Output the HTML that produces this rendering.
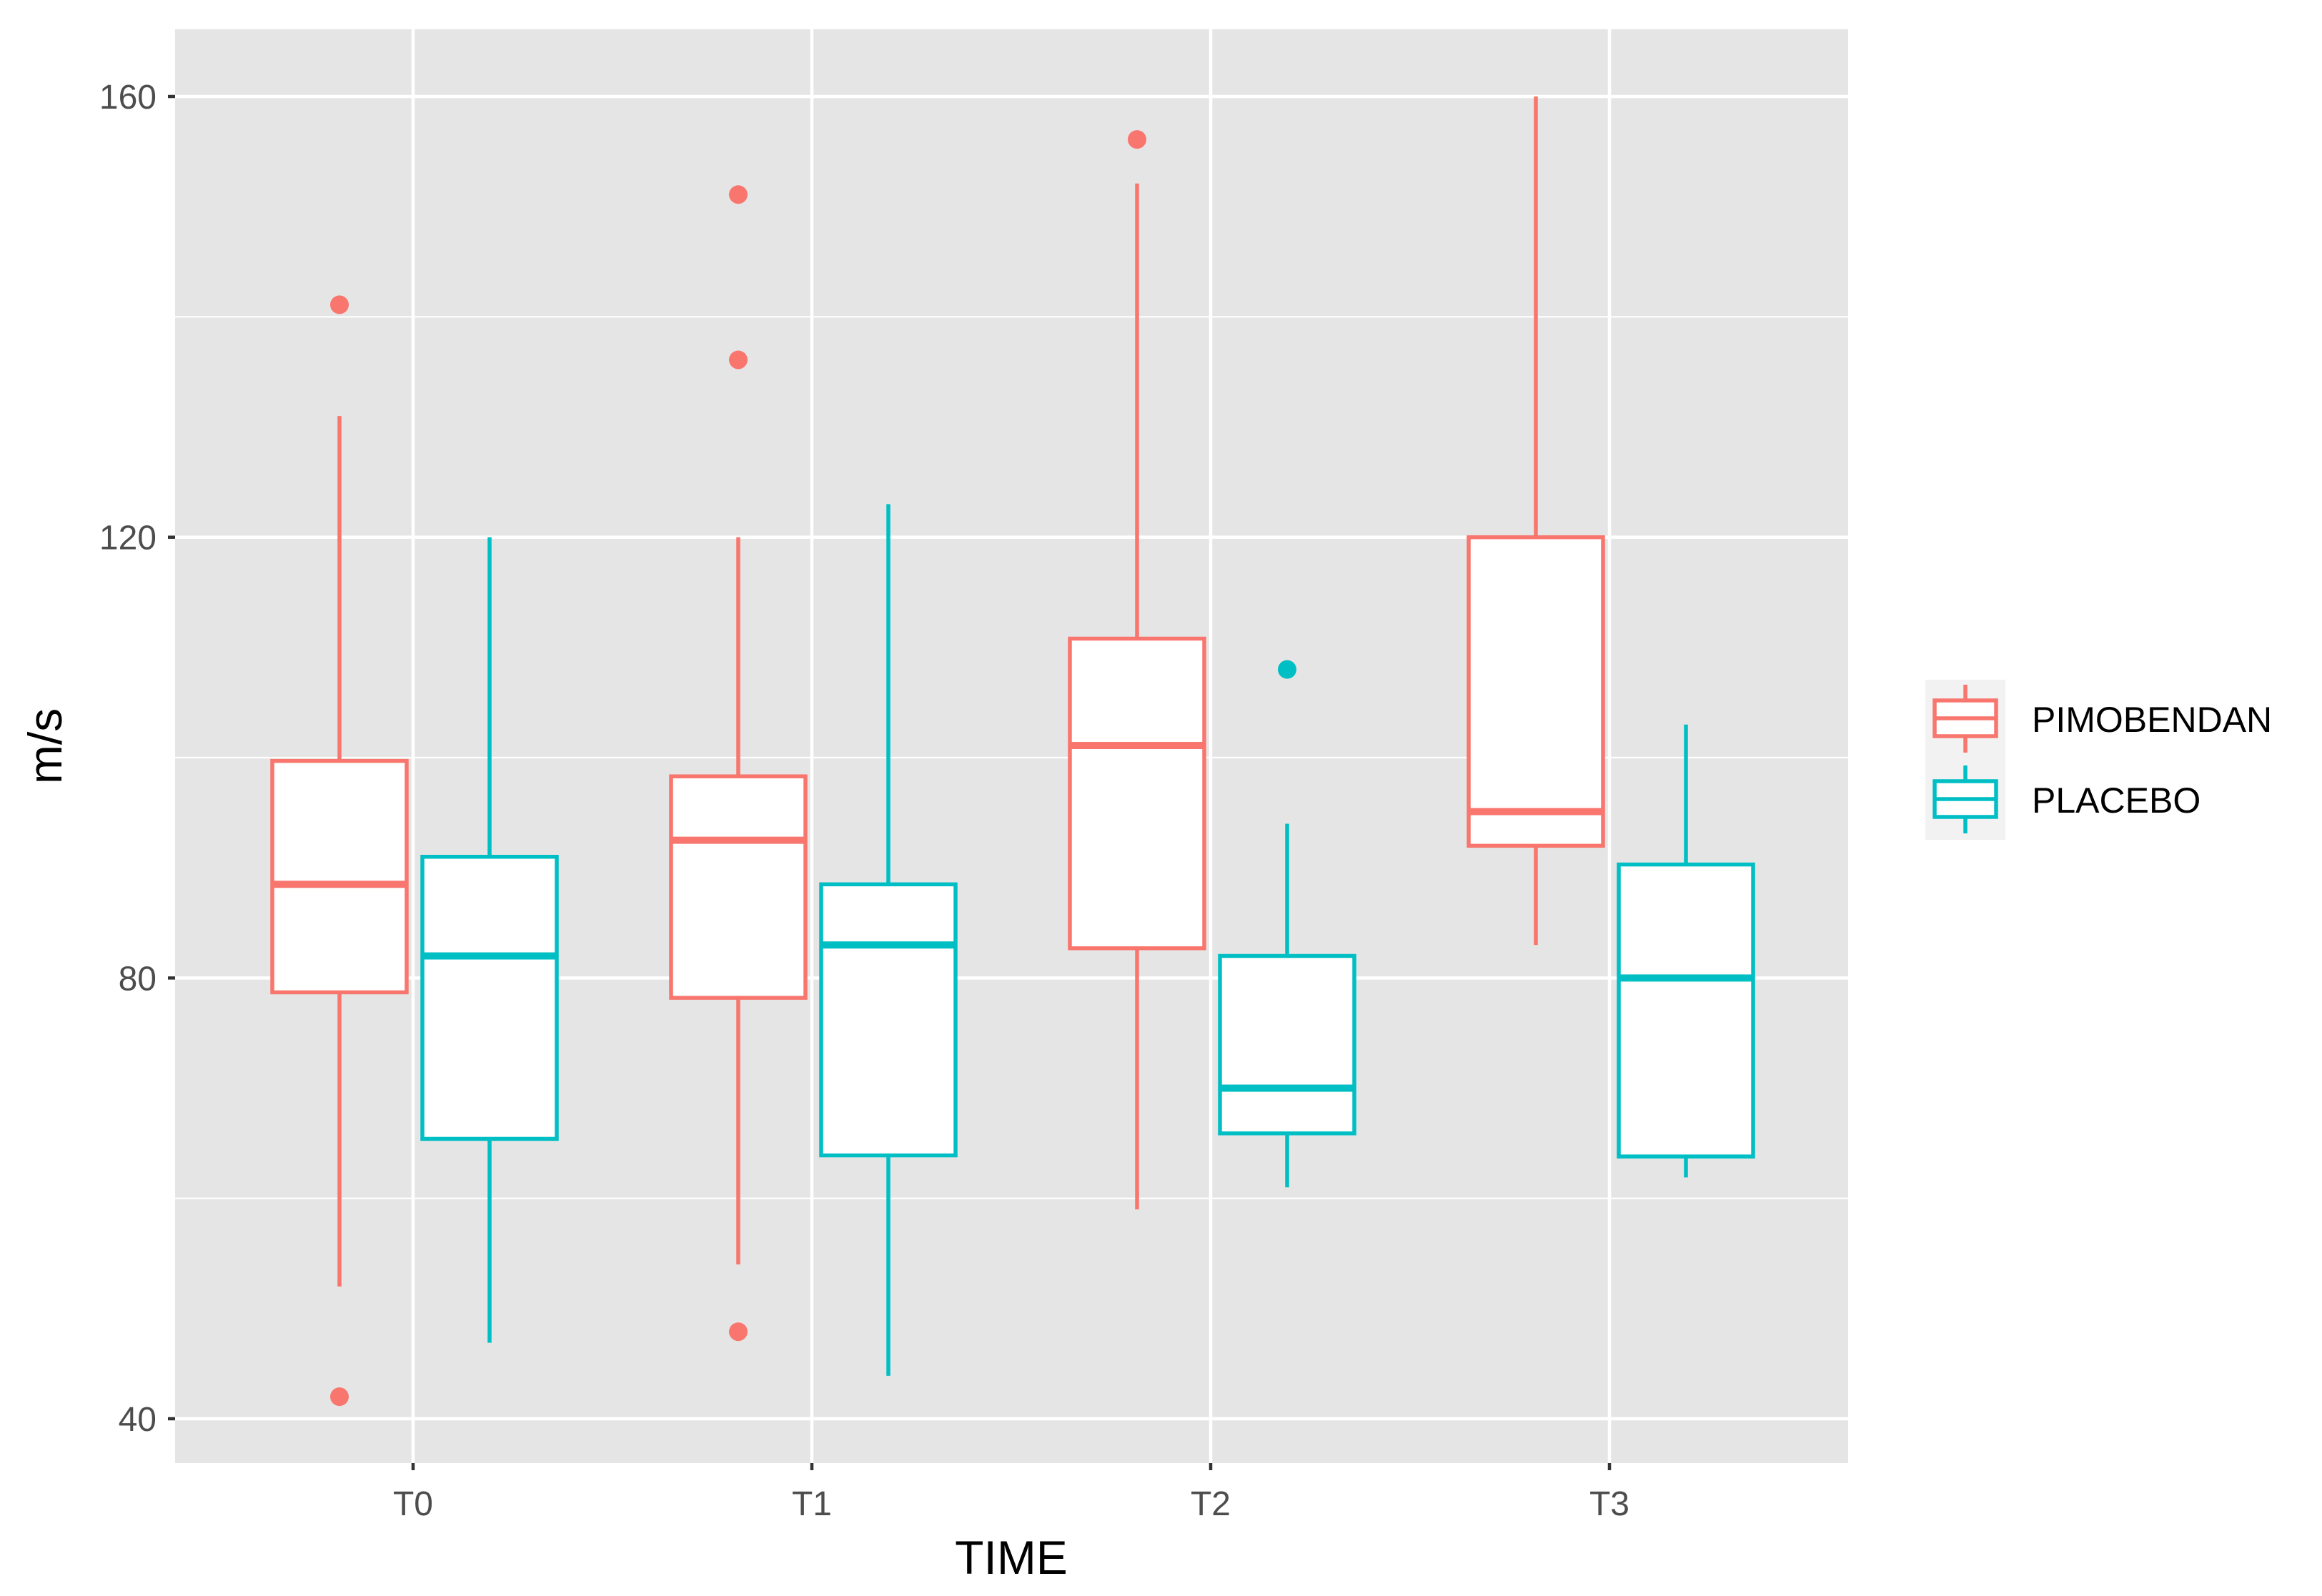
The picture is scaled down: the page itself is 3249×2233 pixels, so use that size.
<!DOCTYPE html>
<html><head><meta charset="utf-8"><style>
html,body{margin:0;padding:0;background:#fff;}
svg{display:block;font-family:"Liberation Sans",sans-serif;}
</style></head><body>
<svg id="chart" width="3249" height="2233" viewBox="0 0 3249 2233" xmlns="http://www.w3.org/2000/svg">
<rect x="245" y="41" width="2341" height="2006" fill="#e5e5e5"/>
<g id="grid"></g>
<g id="axes"></g>
<g id="marks"></g>
<text x="1415" y="2202" font-size="66" text-anchor="middle" fill="#000">TIME</text>
<text transform="translate(86,1044) rotate(-90)" font-size="66" text-anchor="middle" fill="#000">m/s</text>
<g>
<rect x="2694" y="951" width="112" height="224" fill="#f2f2f2"/>
<g>
<line x1="2750" y1="958" x2="2750" y2="1053" stroke="#F8766D" stroke-width="5.5"/>
<rect x="2707" y="980" width="86" height="50" fill="#fff" stroke="#F8766D" stroke-width="5.5"/>
<line x1="2707" y1="1005" x2="2793" y2="1005" stroke="#F8766D" stroke-width="5.5"/>
<text x="2843" y="1024" font-size="50" fill="#000">PIMOBENDAN</text>
</g>
<g>
<line x1="2750" y1="1071" x2="2750" y2="1166" stroke="#00BFC4" stroke-width="5.5"/>
<rect x="2707" y="1093" width="86" height="50" fill="#fff" stroke="#00BFC4" stroke-width="5.5"/>
<line x1="2707" y1="1118" x2="2793" y2="1118" stroke="#00BFC4" stroke-width="5.5"/>
<text x="2843" y="1137" font-size="50" fill="#000">PLACEBO</text>
</g>
</g>
</svg>
<script>
const categories = ["T0","T1","T2","T3"];
const yTicks = [40,80,120,160];
const yMinor = [60,100,140];
const pimLow = [52,54,59,83];
const pimQ1 = [78.7,78.2,82.7,92];
const pimMed = [88.5,92.5,101.1,95.1];
const pimQ3 = [99.7,98.3,110.8,120];
const pimHigh = [131,120,152.1,160];
const pimOutliers = [[141.1,42],[151.1,136.1,47.9],[156.1],[]];
const plaLow = [46.9,43.9,61,61.9];
const plaQ1 = [65.4,63.9,65.9,63.8];
const plaMed = [82,83,70,80];
const plaQ3 = [91,88.5,82,90.3];
const plaHigh = [120,123,94,103];
const plaOutliers = [[],[],[108],[]];

const NS = "http://www.w3.org/2000/svg";
const yScale = v => 135 + (160 - v) * (1985 - 135) / 120;
const xScale = i => 578 + i * 558;
function mk(tag, attrs, parent){const e=document.createElementNS(NS,tag);for(const k in attrs)e.setAttribute(k,attrs[k]);parent.appendChild(e);return e;}
const grid=document.getElementById('grid'), axes=document.getElementById('axes'), marks=document.getElementById('marks');
yMinor.forEach(v=>{const l=mk('line',{x1:245,x2:2586,y1:yScale(v),y2:yScale(v),stroke:'#fff','stroke-width':2.2},grid);

});
yTicks.forEach(v=>{const y=yScale(v);
const l=mk('line',{x1:245,x2:2586,y1:y,y2:y,stroke:'#fff','stroke-width':4.5},grid);


const t=mk('line',{x1:235,x2:245,y1:y,y2:y,stroke:'#333','stroke-width':4.5},axes);


const tx=mk('text',{x:219,y:y+17,'font-size':48,'text-anchor':'end',fill:'#4d4d4d'},axes);tx.textContent=v;

});
categories.forEach((c,i)=>{const x=xScale(i);
const l=mk('line',{x1:x,x2:x,y1:41,y2:2047,stroke:'#fff','stroke-width':4.5},grid);


const t=mk('line',{x1:x,x2:x,y1:2047,y2:2057,stroke:'#333','stroke-width':4.5},axes);


const tx=mk('text',{x:x,y:2120,'font-size':48,'text-anchor':'middle',fill:'#4d4d4d'},axes);tx.textContent=c;

});
function drawBox(i,off,color,lo,q1,md,q3,hi,outs,name){
const cx=xScale(i)+off, w=188;
const g=mk('g',{},marks);


mk('line',{x1:cx,x2:cx,y1:yScale(hi),y2:yScale(q3),stroke:color,'stroke-width':5.5},g);
mk('line',{x1:cx,x2:cx,y1:yScale(q1),y2:yScale(lo),stroke:color,'stroke-width':5.5},g);
mk('rect',{x:cx-w/2,y:yScale(q3),width:w,height:yScale(q1)-yScale(q3),fill:'#fff',stroke:color,'stroke-width':5.5},g);
mk('line',{x1:cx-w/2,x2:cx+w/2,y1:yScale(md),y2:yScale(md),stroke:color,'stroke-width':10},g);
outs.forEach(o=>{const p=mk('circle',{cx:cx,cy:yScale(o),r:13,fill:color},g);

});}
categories.forEach((c,i)=>{
drawBox(i,-103,'#F8766D',pimLow[i],pimQ1[i],pimMed[i],pimQ3[i],pimHigh[i],pimOutliers[i],'pimobendan');
drawBox(i,107,'#00BFC4',plaLow[i],plaQ1[i],plaMed[i],plaQ3[i],plaHigh[i],plaOutliers[i],'placebo');});
</script>
</body></html>
